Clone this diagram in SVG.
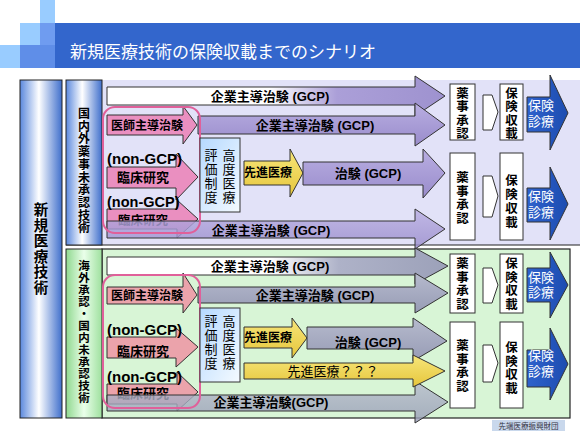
<svg xmlns="http://www.w3.org/2000/svg" width="580" height="435" viewBox="0 0 580 435">
<defs>
<linearGradient id="gColBlue" x1="0" y1="0" x2="1" y2="0"><stop offset="0" stop-color="#5a88dd"/><stop offset="0.45" stop-color="#ffffff"/><stop offset="1" stop-color="#3f6fcc"/></linearGradient>
<linearGradient id="gColGreen" x1="0" y1="0" x2="1" y2="0"><stop offset="0" stop-color="#8fd88f"/><stop offset="0.5" stop-color="#eaffea"/><stop offset="1" stop-color="#9ee09e"/></linearGradient>
<linearGradient id="gWP" x1="0" y1="0" x2="1" y2="0"><stop offset="0" stop-color="#ffffff"/><stop offset="0.48" stop-color="#ffffff"/><stop offset="0.68" stop-color="#ab9fd8"/><stop offset="1" stop-color="#9e92cf"/></linearGradient>
<linearGradient id="gWG" x1="0" y1="0" x2="1" y2="0"><stop offset="0" stop-color="#ffffff"/><stop offset="0.48" stop-color="#ffffff"/><stop offset="0.68" stop-color="#aeb2c8"/><stop offset="1" stop-color="#9ca1b9"/></linearGradient>
<linearGradient id="gPur" x1="0" y1="0" x2="0" y2="1"><stop offset="0" stop-color="#b9aee2"/><stop offset="1" stop-color="#998ccb"/></linearGradient>
<linearGradient id="gGray" x1="0" y1="0" x2="0" y2="1"><stop offset="0" stop-color="#b6bacd"/><stop offset="1" stop-color="#979cb5"/></linearGradient>
<linearGradient id="gYel" x1="0" y1="0" x2="0" y2="1"><stop offset="0" stop-color="#f7e67a"/><stop offset="1" stop-color="#e6c63c"/></linearGradient>
<linearGradient id="gBlue" x1="0" y1="0" x2="1" y2="0"><stop offset="0" stop-color="#2f62cc"/><stop offset="1" stop-color="#1c4cb0"/></linearGradient>
<linearGradient id="gLB" x1="0" y1="0" x2="1" y2="1"><stop offset="0" stop-color="#b5d9ff"/><stop offset="1" stop-color="#f4faff"/></linearGradient>
<style>
.t{font-family:"Liberation Sans","Noto Sans CJK JP",sans-serif;fill:#000}
.b{font-weight:bold}
.c{text-anchor:middle}
.ol{stroke:#333;stroke-width:1}
.box{fill:#fff;stroke:#333;stroke-width:1}
.wt{fill:#fff}
</style>
</defs>
<rect width="580" height="435" fill="#fff"/>
<g id="title">
<rect x="40" y="0" width="15" height="23" fill="#99ccff"/>
<rect x="20" y="23" width="20" height="22" fill="#99ccff"/>
<rect x="40" y="23" width="15" height="22" fill="#6f9cf0"/>
<rect x="0" y="45" width="20" height="23" fill="#99ccff"/>
<rect x="20" y="45" width="35" height="23" fill="#5f8ee8"/>
<rect x="55" y="23" width="525" height="45" fill="#3366cc"/>
<text class="t wt" x="70" y="58" font-size="17">新規医療技術の保険収載までのシナリオ</text>
</g>
<g id="bg">
<rect x="102" y="80" width="478" height="165" fill="#e2e2f8"/>
<line x1="66" y1="245" x2="580" y2="245" stroke="#222" stroke-width="1.2"/>
<rect x="102" y="249" width="468" height="169" fill="#d8f5d6" stroke="#222" stroke-width="1.2"/>
</g>
<g id="col-main">
<rect x="20" y="80" width="42" height="338" fill="url(#gColBlue)" stroke="#222"/>
<text class="t b c" font-size="14.5"><tspan x="41" y="215">新</tspan><tspan x="41" dy="15.5">規</tspan><tspan x="41" dy="15.5">医</tspan><tspan x="41" dy="15.5">療</tspan><tspan x="41" dy="15.5">技</tspan><tspan x="41" dy="15.5">術</tspan></text>
</g>
<g id="col-top">
<rect x="66" y="80" width="36" height="165" fill="url(#gColBlue)" stroke="#222"/>
<text class="t b c" font-size="12"><tspan x="84" y="118">国</tspan><tspan x="84" dy="12.7">内</tspan><tspan x="84" dy="12.7">外</tspan><tspan x="84" dy="12.7">薬</tspan><tspan x="84" dy="12.7">事</tspan><tspan x="84" dy="12.7">未</tspan><tspan x="84" dy="12.7">承</tspan><tspan x="84" dy="12.7">認</tspan><tspan x="84" dy="12.7">技</tspan><tspan x="84" dy="12.7">術</tspan></text>
</g>
<g id="col-bottom">
<rect x="66" y="249" width="36" height="169" fill="url(#gColGreen)" stroke="#222"/>
<text class="t b c" font-size="11.5"><tspan x="84" y="270">海</tspan><tspan x="84" dy="12">外</tspan><tspan x="84" dy="12">承</tspan><tspan x="84" dy="12">認</tspan><tspan x="84" dy="12">・</tspan><tspan x="84" dy="12">国</tspan><tspan x="84" dy="12">内</tspan><tspan x="84" dy="12">未</tspan><tspan x="84" dy="12">承</tspan><tspan x="84" dy="12">認</tspan><tspan x="84" dy="12">技</tspan><tspan x="84" dy="12">術</tspan></text>
</g>

<g id="t-corp1">
<path class="ol" fill="url(#gWP)" d="M107,87 H415 V76 L445,96 L415,116 V105 H107 Z"/>
<text class="t b c" x="270" y="101" font-size="13">企業主導治験 (GCP)</text>
</g>
<g id="t-corp2">
<path class="ol" fill="url(#gPur)" d="M198,116 H415 V103 L445,125 L415,146 V134 H198 Z"/>
<text class="t b c" x="315" y="130" font-size="13">企業主導治験 (GCP)</text>
</g>
<g id="t-ishi">
<path class="ol" fill="#ea8fc0" d="M107,115 H183 V106 L197,125 L183,144 V135 H107 Z"/>
<text class="t b c" x="147" y="130" font-size="12">医師主導治験</text>
</g>
<g id="t-rinsho1">
<path class="ol" fill="#ea8fc0" d="M107,167 H176 V154 L198,177 L176,200 V188 H107 Z"/>
<text class="t b" x="107" y="164" font-size="15">(non-GCP)</text>
<text class="t b c" x="143" y="182" font-size="13">臨床研究</text>
</g>
<g id="t-rinsho2">
<path class="ol" fill="#ea8fc0" d="M107,209 H177 V200 L198,219 L177,238 V229 H107 Z"/>
<text class="t b" x="107" y="207" font-size="14.5">(non-GCP)</text>
<text class="t b c" x="143" y="224.5" font-size="12.5">臨床研究</text>
</g>
<g id="t-corp3">
<path class="ol" fill="url(#gPur)" fill-opacity="0.82" d="M107,221 H415 V209 L445,229 L415,249 V238 H107 Z"/>
<text class="t b c" x="271" y="234.5" font-size="13">企業主導治験 (GCP)</text>
</g>
<g id="t-pinkframe">
<rect x="103" y="107" width="97" height="126" rx="12" fill="none" stroke="#e0609a" stroke-width="2"/>
</g>
<g id="t-kodo">
<rect x="200" y="138" width="40" height="74" fill="url(#gLB)" stroke="#333"/>
<text class="t c" font-size="13"><tspan x="211" y="160">評</tspan><tspan x="211" dy="14">価</tspan><tspan x="211" dy="14">制</tspan><tspan x="211" dy="14">度</tspan></text>
<text class="t c" font-size="13"><tspan x="229" y="160">高</tspan><tspan x="229" dy="14">度</tspan><tspan x="229" dy="14">医</tspan><tspan x="229" dy="14">療</tspan></text>
</g>
<g id="t-senshin">
<path class="ol" fill="url(#gYel)" d="M244,161 H290 V149 L303,173 L290,197 V185 H244 Z"/>
<text class="t b c" x="268" y="177" font-size="12">先進医療</text>
</g>
<g id="t-chiken">
<path class="ol" fill="url(#gPur)" d="M303,162 H423 V149 L445,173 L423,198 V185 H303 Z"/>
<text class="t b c" x="368" y="178" font-size="13">治験 (GCP)</text>
</g>
<g id="t-yakuji1">
<rect class="box" x="450" y="84" width="25" height="56"/>
<text class="t b c" font-size="12.5"><tspan x="462.5" y="98">薬</tspan><tspan x="462.5" dy="13.3">事</tspan><tspan x="462.5" dy="13.3">承</tspan><tspan x="462.5" dy="13.3">認</tspan></text>
</g>
<g id="t-hoken1">
<rect class="box" x="500" y="84" width="23" height="56"/>
<text class="t b c" font-size="12.5"><tspan x="511.5" y="98">保</tspan><tspan x="511.5" dy="13.3">険</tspan><tspan x="511.5" dy="13.3">収</tspan><tspan x="511.5" dy="13.3">載</tspan></text>
</g>
<g id="t-shinryo1">
<path class="ol" fill="url(#gBlue)" d="M527,97 H550 V75 L568,113 L550,150 V132 H527 Z"/>
<text class="t c wt" font-size="13"><tspan x="541" y="110">保険</tspan><tspan x="541" dy="16">診療</tspan></text>
</g>
<g id="t-yakuji2">
<rect class="box" x="450" y="153" width="25" height="87"/>
<text class="t b c" font-size="12.5"><tspan x="462.5" y="182">薬</tspan><tspan x="462.5" dy="13.5">事</tspan><tspan x="462.5" dy="13.5">承</tspan><tspan x="462.5" dy="13.5">認</tspan></text>
</g>
<g id="t-hoken2">
<rect class="box" x="500" y="153" width="23" height="87"/>
<text class="t b c" font-size="12.5"><tspan x="511.5" y="185">保</tspan><tspan x="511.5" dy="14">険</tspan><tspan x="511.5" dy="14">収</tspan><tspan x="511.5" dy="14">載</tspan></text>
</g>
<g id="t-shinryo2">
<path class="ol" fill="url(#gBlue)" d="M527,188 H550 V167 L568,204 L550,240 V222 H527 Z"/>
<text class="t c wt" font-size="13"><tspan x="541" y="201">保険</tspan><tspan x="541" dy="16">診療</tspan></text>
</g>

<g id="b-corp1">
<path class="ol" fill="url(#gWG)" d="M107,257 H415 V248 L448,266 L415,284 V275 H107 Z"/>
<text class="t b c" x="270" y="271" font-size="13">企業主導治験 (GCP)</text>
</g>
<g id="b-corp2">
<path class="ol" fill="url(#gGray)" d="M198,287 H415 V273 L448,293 L415,313 V303 H198 Z"/>
<text class="t b c" x="315" y="300" font-size="13">企業主導治験 (GCP)</text>
</g>
<g id="b-ishi">
<path class="ol" fill="#eba3ab" d="M107,287 H183 V273 L197,295 L183,313 V304 H107 Z"/>
<text class="t b c" x="147" y="300" font-size="12">医師主導治験</text>
</g>
<g id="b-rinsho1">
<path class="ol" fill="#eba3ab" d="M107,337 H176 V328 L198,347 L176,367 V358 H107 Z"/>
<text class="t b" x="107" y="335" font-size="15">(non-GCP)</text>
<text class="t b c" x="143" y="356" font-size="13">臨床研究</text>
</g>
<g id="b-rinsho2">
<path class="ol" fill="#eba3ab" d="M107,384 H177 V372 L198,392 L177,411 V404 H107 Z"/>
<text class="t b" x="107" y="382" font-size="15">(non-GCP)</text>
<text class="t b c" x="143" y="398" font-size="13">臨床研究</text>
</g>
<g id="b-corp3">
<path class="ol" fill="url(#gGray)" fill-opacity="0.8" d="M107,395 H415 V381 L448,402 L415,423 V411 H107 Z"/>
<text class="t b c" x="271" y="407" font-size="13">企業主導治験(GCP)</text>
</g>
<g id="b-pinkframe">
<rect x="103" y="275" width="97" height="133" rx="12" fill="none" stroke="#e0609a" stroke-width="2"/>
</g>
<g id="b-kodo">
<rect x="200" y="308" width="40" height="74" fill="url(#gLB)" stroke="#333"/>
<text class="t c" font-size="13"><tspan x="211" y="326">評</tspan><tspan x="211" dy="14">価</tspan><tspan x="211" dy="14">制</tspan><tspan x="211" dy="14">度</tspan></text>
<text class="t c" font-size="13"><tspan x="229" y="326">高</tspan><tspan x="229" dy="14">度</tspan><tspan x="229" dy="14">医</tspan><tspan x="229" dy="14">療</tspan></text>
</g>
<g id="b-senshin">
<path class="ol" fill="url(#gYel)" d="M244,327 H292 V318 L307,338 L292,358 V348 H244 Z"/>
<text class="t b c" x="268" y="342" font-size="12">先進医療</text>
</g>
<g id="b-chiken">
<path class="ol" fill="url(#gGray)" d="M307,327 H413 V318 L447,341 L413,361 V349 H307 Z"/>
<text class="t b c" x="368" y="347" font-size="13">治験 (GCP)</text>
</g>
<g id="b-senshin2">
<path class="ol" fill="url(#gYel)" d="M244,363 H413 V355 L445,371 L413,387 V379 H244 Z"/>
<text class="t c" x="333" y="376" font-size="13">先進医療？？？</text>
</g>
<g id="b-yakuji1">
<rect class="box" x="450" y="254" width="25" height="59"/>
<text class="t b c" font-size="12.5"><tspan x="462.5" y="268">薬</tspan><tspan x="462.5" dy="13.5">事</tspan><tspan x="462.5" dy="13.5">承</tspan><tspan x="462.5" dy="13.5">認</tspan></text>
</g>
<g id="b-hoken1">
<rect class="box" x="500" y="254" width="23" height="59"/>
<text class="t b c" font-size="12.5"><tspan x="511.5" y="268">保</tspan><tspan x="511.5" dy="13.5">険</tspan><tspan x="511.5" dy="13.5">収</tspan><tspan x="511.5" dy="13.5">載</tspan></text>
</g>
<g id="b-shinryo1">
<path class="ol" fill="url(#gBlue)" d="M527,268 H550 V252 L568,285 L550,318 V302 H527 Z"/>
<text class="t c wt" font-size="13"><tspan x="541" y="282">保険</tspan><tspan x="541" dy="15">診療</tspan></text>
</g>
<g id="b-yakuji2">
<rect class="box" x="450" y="322" width="25" height="86"/>
<text class="t b c" font-size="12.5"><tspan x="462.5" y="350">薬</tspan><tspan x="462.5" dy="13.5">事</tspan><tspan x="462.5" dy="13.5">承</tspan><tspan x="462.5" dy="13.5">認</tspan></text>
</g>
<g id="b-hoken2">
<rect class="box" x="500" y="322" width="23" height="86"/>
<text class="t b c" font-size="12.5"><tspan x="511.5" y="352">保</tspan><tspan x="511.5" dy="13.5">険</tspan><tspan x="511.5" dy="13.5">収</tspan><tspan x="511.5" dy="13.5">載</tspan></text>
</g>
<g id="b-shinryo2">
<path class="ol" fill="url(#gBlue)" d="M527,350 H550 V328 L568,364 L550,400 V387 H527 Z"/>
<text class="t c wt" font-size="13"><tspan x="541" y="360">保険</tspan><tspan x="541" dy="16">診療</tspan></text>
</g>

<g id="connectors" fill="#fff" stroke="#333" stroke-width="1">
<path d="M483,95 H492 L498,112 L492,130 H483 Z"/>
<path d="M483,176 H492 L498,196 L492,217 H483 Z"/>
<path d="M483,268 H492 L498,285 L492,303 H483 Z"/>
<path d="M483,345 H492 L498,363 L492,382 H483 Z"/>
</g>

<g id="footer">
<rect x="492" y="420" width="73" height="11" fill="#c9d8ec"/>
<text class="t c" x="528.5" y="429" font-size="7.5" style="fill:#334">先端医療振興財団</text>
</g>
</svg>
